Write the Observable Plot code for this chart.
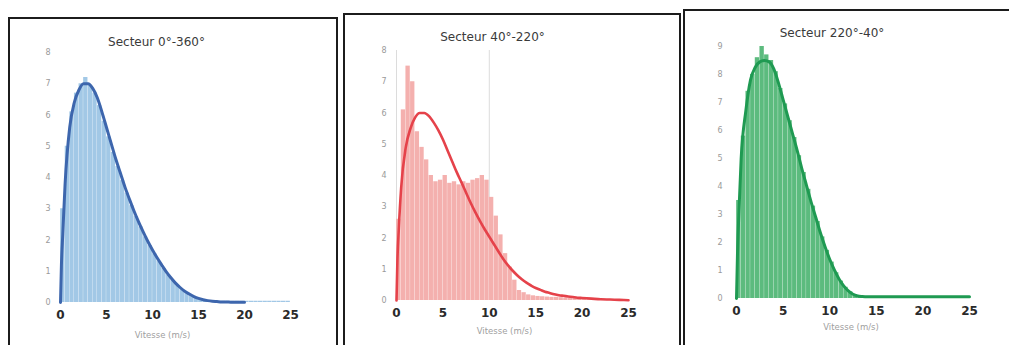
<!DOCTYPE html>
<html>
<head>
<meta charset="utf-8">
<script src="https://cdn.jsdelivr.net/npm/d3@7"></script>
<script src="https://cdn.jsdelivr.net/npm/@observablehq/plot@0.6"></script>
<style>
  html, body { margin: 0; padding: 0; background: #fff; overflow: hidden; }
  #page { position: relative; width: 1009px; height: 345px; overflow: hidden; background: #fff; }
  .box { position: absolute; border: 2px solid #1c1c1c; box-sizing: border-box; }
  .layer { position: absolute; left: 0; top: 0; }
</style>
</head>
<body>
<div id="page"></div>
<script>
// ---- data ----
const titles = ["Secteur 0°-360°", "Secteur 40°-220°", "Secteur 220°-40°"];
const xLabel = "Vitesse (m/s)";
const xTicks = [0, 5, 10, 15, 20, 25];
const yTicks1 = [0, 1, 2, 3, 4, 5, 6, 7, 8];
const yTicks2 = [0, 1, 2, 3, 4, 5, 6, 7, 8];
const yTicks3 = [0, 1, 2, 3, 4, 5, 6, 7, 8, 9];

// histogram bins (left edge, m/s), width 0.5
const binStart = [0,0.5,1,1.5,2,2.5,3,3.5,4,4.5,5,5.5,6,6.5,7,7.5,8,8.5,9,9.5,
  10,10.5,11,11.5,12,12.5,13,13.5,14,14.5,15,15.5,16,16.5,17,17.5,18,18.5,19,19.5,
  20,20.5,21,21.5,22,22.5,23,23.5,24,24.5];

// frequencies (%) per bin
const bars1 = [3.0,5.0,6.1,6.7,7.0,7.2,6.95,6.7,6.3,5.8,5.3,4.8,4.35,3.9,3.5,3.1,2.75,2.42,2.1,1.82,
  1.56,1.31,1.09,0.88,0.7,0.54,0.41,0.31,0.22,0.15,0.11,0.08,0.06,0.05,0.04,0.04,0.04,0.04,0.04,0.04,
  0.04,0.04,0.04,0.04,0.04,0.04,0.04,0.04,0.04,0.04];
const bars2 = [2.6,6.1,7.5,7.0,5.4,4.9,4.5,4.0,3.8,3.85,4.0,3.75,3.8,3.7,3.8,3.75,3.85,3.9,4.0,3.85,
  3.3,2.7,2.1,1.5,1.07,0.65,0.32,0.25,0.18,0.15,0.13,0.12,0.11,0.1,0.1,0.09,0.08,0.08,0.07,0.06,
  0.06,0.05,0.05,0.04,0.04,0.03,0.03,0.03,0.02,0.02];
const bars3 = [3.5,5.8,7.4,8.0,8.6,9.0,8.7,8.5,8.1,7.5,6.95,6.35,5.75,5.1,4.5,3.9,3.3,2.75,2.2,1.72,
  1.3,0.92,0.62,0.4,0.24,0.13,0.08,0.06,0.06,0.06,0.06,0.06,0.06,0.06,0.06,0.06,0.06,0.06,0.06,0.06,
  0.06,0.06,0.06,0.06,0.06,0.06,0.06,0.06,0.06,0.06];

// fitted curves
const curveX = [0,0.1,0.25,0.5,1,1.5,2,2.5,3,3.5,4,4.5,5,5.5,6,6.5,7,7.5,8,8.5,9,9.5,
  10,10.5,11,11.5,12,12.5,13,13.5,14,14.5,15,15.5,16,16.5,17,17.5,18,18.5,19,19.5,20,21,22,23,24,25];
const curve1 = [0,1.2,2.2,3.8,5.6,6.4,6.8,7.0,7.0,6.85,6.55,6.1,5.6,5.1,4.6,4.15,3.7,3.3,2.92,2.57,2.25,1.95,
  1.68,1.43,1.2,0.98,0.79,0.62,0.48,0.36,0.27,0.19,0.13,0.09,0.06,0.04,0.03,0.02,0.02,0.01,0.01,0.01,0.01,null,null,null,null,null];
const curve2 = [0,1.3,2.3,3.6,4.9,5.5,5.85,6.0,6.0,5.9,5.7,5.45,5.15,4.8,4.45,4.1,3.78,3.45,3.12,2.82,2.54,2.28,
  2.04,1.8,1.56,1.33,1.13,0.96,0.81,0.68,0.57,0.48,0.4,0.34,0.28,0.24,0.2,0.17,0.15,0.13,0.11,0.09,0.08,0.06,0.04,0.03,0.02,0.01];
const curve3 = [0,1.5,3.0,5.0,6.7,7.8,8.25,8.45,8.5,8.45,8.2,7.7,7.1,6.5,5.9,5.3,4.65,4.05,3.45,2.9,2.35,1.85,
  1.4,1.02,0.7,0.45,0.27,0.15,0.09,0.07,0.06,0.06,0.06,0.06,0.06,0.06,0.06,0.06,0.06,0.06,0.06,0.06,0.06,0.06,0.06,0.06,0.06,0.06];

// ---- layout / style ----
const W = 1009, H = 345;
const panels = [
  {title: titles[0], bars: bars1, curve: curve1, yTicks: yTicks1, ymax: 8,
   x0: 60, x25: 290, y0: 302, yTop: 52, box: [8, 17, 330, 360],
   barFill: "#a2c8e6", lineStroke: "#3d66ad", lw: 3,
   tdy: -15, tdx: -19, ldy: 35, ldx: -13, ypad: 10, grid: []},
  {title: titles[1], bars: bars2, curve: curve2, yTicks: yTicks2, ymax: 8,
   x0: 396, x25: 628, y0: 300, yTop: 50, box: [343, 13, 338, 360],
   barFill: "#f4b0ae", lineStroke: "#e5424a", lw: 2.6,
   tdy: -18, tdx: -20, ldy: 33, ldx: -8, ypad: 10, grid: [0, 10]},
  {title: titles[2], bars: bars3, curve: curve3, yTicks: yTicks3, ymax: 9,
   x0: 736, x25: 969, y0: 298, yTop: 46, box: [683, 9, 345, 360],
   barFill: "#5cbb7e", lineStroke: "#1f9a52", lw: 3,
   tdy: -18, tdx: -21, ldy: 31, ldx: -2, ypad: 14, grid: []}
];

const page = document.getElementById("page");

for (const p of panels) {
  const box = document.createElement("div");
  box.className = "box";
  box.style.left = p.box[0] + "px";
  box.style.top = p.box[1] + "px";
  box.style.width = p.box[2] + "px";
  box.style.height = p.box[3] + "px";
  page.appendChild(box);

  const barData = binStart.map((b, i) => ({x1: b, x2: b + 0.5, y: p.bars[i]}));
  const lineData = curveX.map((x, i) => ({x, y: p.curve[i]}));

  const chart = Plot.plot({
    width: W,
    height: H,
    marginLeft: p.x0,
    marginRight: W - p.x25,
    marginTop: p.yTop,
    marginBottom: H - p.y0,
    style: {background: "transparent", fontFamily: "'DejaVu Sans', sans-serif"},
    x: {domain: [0, 25], label: null},
    y: {domain: [0, p.ymax], label: null},
    marks: [
      Plot.ruleX(p.grid, {stroke: "#dcdcdc", strokeWidth: 1}),
      Plot.rectY(barData, {x1: "x1", x2: "x2", y: "y", fill: p.barFill, insetLeft: 0.15, insetRight: 0.15}),
      Plot.line(lineData, {x: "x", y: "y", stroke: p.lineStroke, strokeWidth: p.lw, curve: "monotone-x"}),
      Plot.axisX({ticks: xTicks, tickFormat: d => String(d), tickSize: 0, tickPadding: 8,
                  fontSize: 12, fontWeight: 600, color: "#2a2a2a", label: null}),
      Plot.axisY({ticks: p.yTicks, tickFormat: d => String(d), tickSize: 0, tickPadding: p.ypad,
                  fontSize: 8, color: "#9a9a9a", label: null}),
      Plot.text([p.title], {frameAnchor: "top", dy: p.tdy, dx: p.tdx, fontSize: 12,
                  fill: "#3a3a3a", fontWeight: 500}),
      Plot.text([xLabel], {frameAnchor: "bottom", dy: p.ldy, dx: p.ldx, fontSize: 8.5, fill: "#a0a0a0"})
    ]
  });
  chart.classList.add("layer");
  page.appendChild(chart);
}
</script>
</body>
</html>
